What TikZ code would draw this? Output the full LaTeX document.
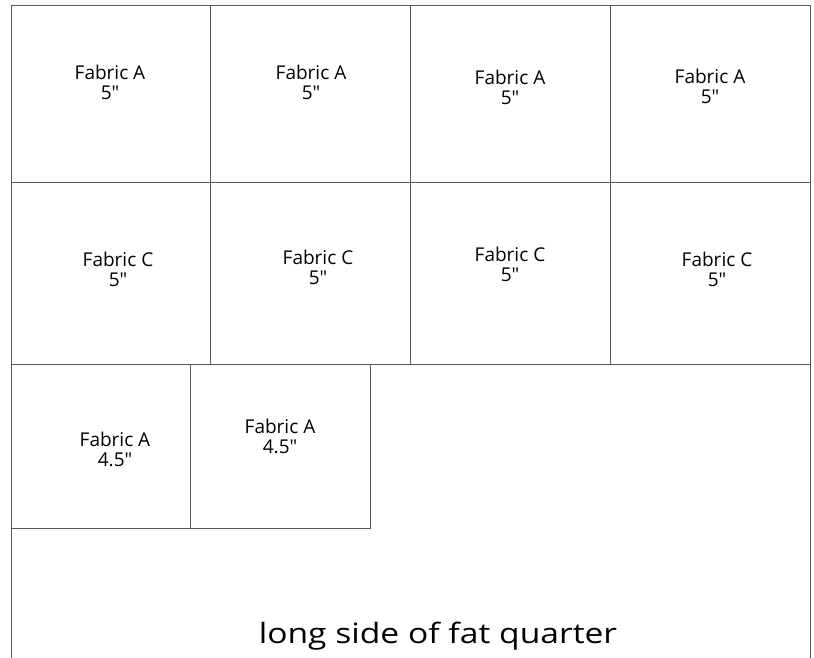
\documentclass[tikz,border=0pt]{standalone}
\usepackage{fontspec}
\setsansfont{Open Sans}
\definecolor{cutgray}{RGB}{88,88,88}
\begin{document}
\begin{tikzpicture}[
    x=1pt, y=-1pt,
    cut/.style={draw=cutgray, line width=1pt},
    lbl/.style={font=\sffamily\fontsize{19}{20}\selectfont, align=center, anchor=base, inner sep=0pt},
    side/.style={font=\sffamily\fontsize{28}{30}\selectfont, anchor=base, inner sep=0pt, xscale=1.2}
]
\useasboundingbox (0,0) rectangle (814,658);
% outline of the fat quarter
\draw[cut] (11,658) -- (11,6) -- (810,6) -- (810,658);
% 5 inch squares, two rows
\foreach \xa/\xb in {11/210, 210/410, 410/610, 610/810}{
    \draw[cut] (\xa,6) rectangle (\xb,182);
    \draw[cut] (\xa,182) rectangle (\xb,364);
}
% 4.5 inch squares
\draw[cut] (11,364) rectangle (190,528);
\draw[cut] (190,364) rectangle (370,528);
% row 1
\node[lbl] (a1) at (110,100) {Fabric A\\5″};
\node[lbl] (a2) at (311,100) {Fabric A\\5″};
\node[lbl] (a3) at (510,105) {Fabric A\\5″};
\node[lbl] (a4) at (710,104) {Fabric A\\5″};
% row 2
\node[lbl] (c1) at (118,286) {Fabric C\\5″};
\node[lbl] (c2) at (318,284) {Fabric C\\5″};
\node[lbl] (c3) at (510,281) {Fabric C\\5″};
\node[lbl] (c4) at (717,286) {Fabric C\\5″};
% row 3
\node[lbl] (s1) at (115,466) {Fabric A\\4.5″};
\node[lbl] (s2) at (280,453) {Fabric A\\4.5″};
\node[side] (longside) at (438,643) {long side of fat quarter};
\end{tikzpicture}
\end{document}
